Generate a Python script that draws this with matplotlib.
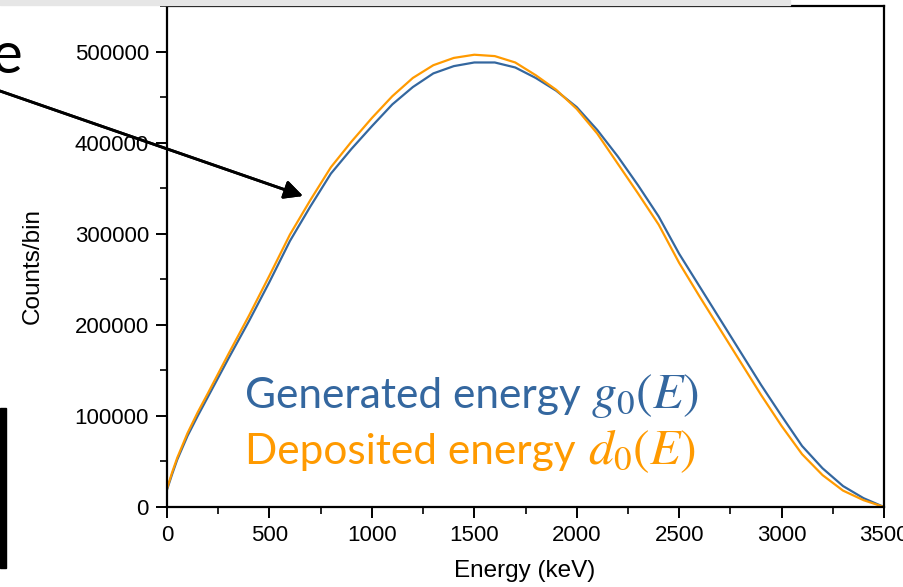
import matplotlib
matplotlib.use("Agg")
import matplotlib.pyplot as plt
from matplotlib.patches import Rectangle
from matplotlib.ticker import MultipleLocator

plt.rcParams["mathtext.fontset"] = "stix"

# energy grid (keV) and counts per bin
energy = [0, 25, 50, 100, 150, 200, 300, 400, 500, 600, 700, 800, 900, 1000,
          1100, 1200, 1300, 1400, 1500, 1600, 1700, 1800, 1900, 2000, 2100,
          2200, 2300, 2400, 2500, 2600, 2700, 2800, 2900, 3000, 3100, 3200,
          3300, 3400, 3500]
generated = [19000, 36000, 52000, 78000, 100000, 121000, 163000, 204000,
             247000, 292000, 330000, 366000, 393000, 418000, 442000, 461000,
             476000, 484000, 488000, 488000, 482500, 471000, 457000, 439000,
             414000, 385000, 353000, 319000, 278000, 242000, 206000, 170000,
             134000, 100000, 67000, 42500, 23000, 9700, 0]
deposited = [20000, 38000, 54000, 81000, 104000, 125000, 168000, 210000,
             254000, 299000, 337000, 373000, 401000, 427000, 451000, 471000,
             485000, 493000, 496500, 495000, 488000, 474000, 458000, 437000,
             410000, 377000, 344000, 310000, 268000, 231000, 195000, 159000,
             123000, 89000, 58000, 35000, 18000, 7500, 0]

blue = "#34679f"
orange = "#ff9a00"

W, H = 904, 587
fig = plt.figure(figsize=(W / 100, H / 100), dpi=100)
ax = fig.add_axes([167 / W, 1 - 507 / H, (884 - 167) / W, (507 - 6) / H])

ax.plot(energy, generated, color=blue, lw=1.6)
ax.plot(energy, deposited, color=orange, lw=1.6)

ax.set_xlim(0, 3500)
ax.set_ylim(0, 550000)
ax.xaxis.set_major_locator(MultipleLocator(500))
ax.xaxis.set_minor_locator(MultipleLocator(250))
ax.yaxis.set_major_locator(MultipleLocator(100000))
ax.yaxis.set_minor_locator(MultipleLocator(50000))
ax.tick_params(which="major", direction="out", length=8, width=1.4,
               labelsize=16, pad=5)
ax.tick_params(which="minor", direction="out", length=5, width=1.2)
for lab in ax.get_xticklabels() + ax.get_yticklabels():
    lab.set_family("Liberation Sans")
for s in ax.spines.values():
    s.set_linewidth(1.6)

fig.text(525 / W, 1 - 571 / H, "Energy (keV)", fontsize=17.5,
         family="Liberation Sans", ha="center", va="center")
fig.text(33 / W, 1 - 266 / H, "Counts/bin", fontsize=17.5, rotation=90,
         family="Liberation Sans", ha="center", va="center")

# legend written as coloured text
fig.text(245 / W, 1 - 408 / H, "Generated energy", color=blue,
         fontsize=30.5, family="Lato", va="baseline")
fig.text(591 / W, 1 - 408 / H, r"$g_0(E)$", color=blue, fontsize=36, va="baseline")
fig.text(245 / W, 1 - 464 / H, "Deposited energy", color=orange,
         fontsize=30.5, family="Lato", va="baseline")
fig.text(588 / W, 1 - 464 / H, r"$d_0(E)$", color=orange, fontsize=36, va="baseline")

# bits of the surrounding slide
fig.patches.append(Rectangle((0, 1 - 5 / H), 790 / W, 5 / H, transform=fig.transFigure,
                             color="#e6e6e6", zorder=0))
fig.patches.append(Rectangle((0, 1 - 568 / H), 6 / W, 160 / H, transform=fig.transFigure,
                             color="black"))
fig.text(22 / W, 1 - 73 / H, "e", fontsize=42, family="Lato", ha="right", va="baseline")
fig.add_artist(plt.annotate("", xy=(303 / W, 1 - 196 / H), xytext=(0, 1 - 91 / H),
                            xycoords="figure fraction", textcoords="figure fraction",
                            arrowprops=dict(arrowstyle="-|>", color="black", lw=2,
                                            mutation_scale=28, shrinkA=0, shrinkB=0)))

fig.savefig("out.png", dpi=100)
